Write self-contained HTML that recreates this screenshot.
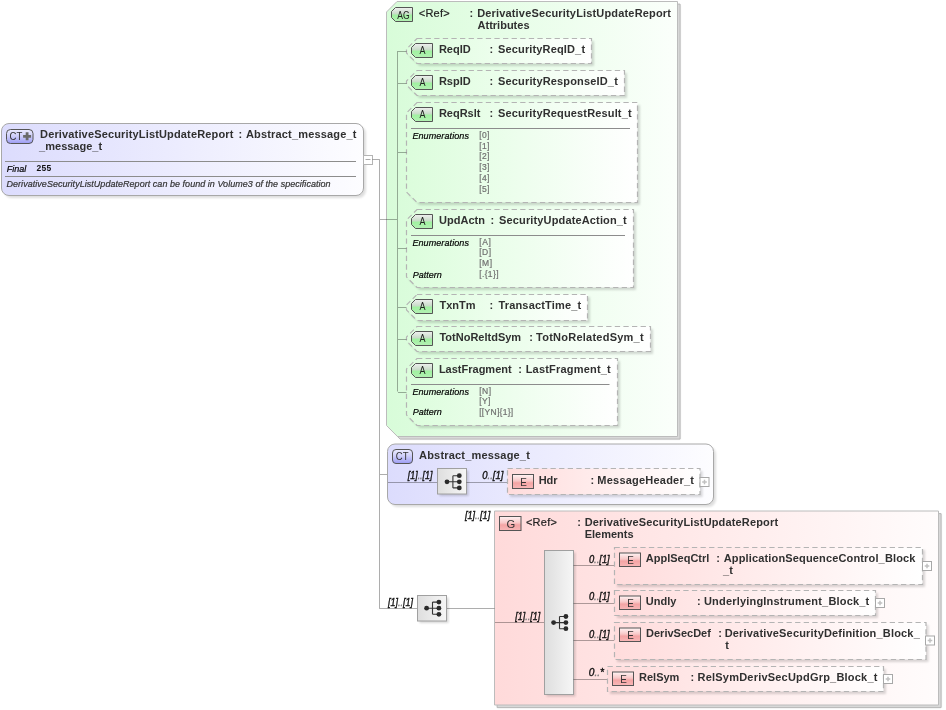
<!DOCTYPE html>
<html><head><meta charset="utf-8"><style>
html,body{margin:0;padding:0;background:#fff}
body{width:946px;height:710px;overflow:hidden}
svg{display:block;will-change:transform}
text{font-family:"Liberation Sans",sans-serif}
</style></head><body>
<svg width="946" height="710" viewBox="0 0 946 710"><defs>
<linearGradient id="gCT" x1="0" y1="0" x2="1" y2="0"><stop offset="0" stop-color="#dcdcfd"/><stop offset="1" stop-color="#fdfdff"/></linearGradient>
<linearGradient id="gAG" x1="0" y1="0" x2="1" y2="0"><stop offset="0" stop-color="#d8fcd9"/><stop offset="1" stop-color="#fbfffb"/></linearGradient>
<linearGradient id="gA" x1="0" y1="0" x2="1" y2="0"><stop offset="0" stop-color="#dcfddc"/><stop offset="1" stop-color="#ffffff"/></linearGradient>
<linearGradient id="gG" x1="0" y1="0" x2="1" y2="0"><stop offset="0" stop-color="#ffdada"/><stop offset="1" stop-color="#fffcfc"/></linearGradient>
<linearGradient id="gE" x1="0" y1="0" x2="1" y2="0"><stop offset="0" stop-color="#ffdcdc"/><stop offset="1" stop-color="#ffffff"/></linearGradient>
<linearGradient id="gSeq" x1="0" y1="0" x2="1" y2="0"><stop offset="0" stop-color="#dedede"/><stop offset="1" stop-color="#f6f6f6"/></linearGradient>
<linearGradient id="bCT" x1="0" y1="0" x2="0" y2="1"><stop offset="0" stop-color="#ececff"/><stop offset="0.45" stop-color="#d0d0fa"/><stop offset="1" stop-color="#9c9cf4"/></linearGradient>
<linearGradient id="bA" x1="0" y1="0" x2="0" y2="1"><stop offset="0" stop-color="#f0f0f0"/><stop offset="0.45" stop-color="#c8dcc8"/><stop offset="0.55" stop-color="#a0f2a0"/><stop offset="1" stop-color="#b4f0b4"/></linearGradient>
<linearGradient id="bE" x1="0" y1="0" x2="0" y2="1"><stop offset="0" stop-color="#fff4f4"/><stop offset="0.45" stop-color="#f8c8c8"/><stop offset="0.6" stop-color="#f4a4a4"/><stop offset="1" stop-color="#f8b8b8"/></linearGradient>
<filter id="sh" x="-5%" y="-5%" width="110%" height="110%"><feGaussianBlur stdDeviation="1.3"/></filter>
<filter id="sh2" x="-5%" y="-5%" width="110%" height="110%"><feGaussianBlur stdDeviation="0.5"/></filter>
</defs><rect x="4.0" y="126.0" width="362" height="72" rx="7.5" fill="#000" opacity="0.13" filter="url(#sh)"/>
<rect x="1.5" y="123.5" width="362" height="72" fill="url(#gCT)" stroke="#a8a8a8" rx="7.5" />
<rect x="6.5" y="129.5" width="26.5" height="14" fill="url(#bCT)" stroke="#555" rx="4" />
<text x="9.58" y="139.90" font-size="11.5" fill="#333" textLength="12.769" lengthAdjust="spacingAndGlyphs">CT</text>
<path d="M25.7,132.3 h2.8 v2.6 h2.6 v2.8 h-2.6 v2.6 h-2.8 v-2.6 h-2.6 v-2.8 h2.6 z" fill="#6a6a6a" stroke="none" />
<text x="40.06" y="138.30" font-size="11" font-weight="bold" fill="#303030" letter-spacing="0.153">DerivativeSecurityListUpdateReport</text>
<text x="238.47" y="138.30" font-size="11" font-weight="bold" fill="#303030">:</text>
<text x="245.89" y="138.30" font-size="11" font-weight="bold" fill="#303030" letter-spacing="0.179">Abstract_message_t</text>
<text x="39.11" y="149.70" font-size="11" font-weight="bold" fill="#303030">_message_t</text>
<path d="M5,161.5 L356,161.5" fill="none" stroke="#8c8c8c" />
<path d="M5,176.5 L356,176.5" fill="none" stroke="#8c8c8c" />
<text x="6.64" y="171.70" font-size="9" font-style="italic" fill="#000" stroke="#000" stroke-width="0.2" letter-spacing="0.060">Final</text>
<text x="36.57" y="171.20" font-size="8.5" font-weight="bold" fill="#111" letter-spacing="0.218">255</text>
<text x="6.53" y="186.80" font-size="9" font-style="italic" fill="#333" stroke="#333" stroke-width="0.2" letter-spacing="0.035">DerivativeSecurityListUpdateReport can be found in Volume3 of the specification</text>
<rect x="363.5" y="155.5" width="9" height="9" fill="#fff" stroke="#b4b4b4" />
<path d="M365.5,159.5 L370.5,159.5" fill="none" stroke="#aaa" />
<path d="M372.5,159.5 L379.5,159.5 L379.5,608.5 L417.5,608.5" fill="none" stroke="#000" stroke-opacity="0.32" />
<path d="M380,474.5 L387.5,474.5" fill="none" stroke="#000" stroke-opacity="0.32" />
<path d="M397,1.5 H677.5 V436.5 H397.5 L386.5,425.5 V12 Z" transform="translate(3.1,3.1)" fill="#000" opacity="0.06" filter="url(#sh)"/>
<path d="M397,1.5 H677.5 V436.5 H397.5 L386.5,425.5 V12 Z" transform="translate(2.6,2.6)" fill="#d8d8d8" stroke="#b8b8b8"/>
<path d="M397,1.5 H677.5 V436.5 H397.5 L386.5,425.5 V12 Z" fill="url(#gAG)" stroke="#bcbcbc" />
<path d="M395.5,7.5 H412.5 V21.5 H395.5 L391.5,17.5 V11.5 Z" fill="url(#bA)" stroke="#555" />
<text x="397.25" y="18.50" font-size="11" fill="#222" textLength="12.387" lengthAdjust="spacingAndGlyphs">AG</text>
<text x="418.70" y="16.60" font-size="11" fill="#222" stroke="#222" stroke-width="0.2" letter-spacing="0.273">&lt;Ref&gt;</text>
<text x="469.53" y="16.60" font-size="11" font-weight="bold" fill="#303030">:</text>
<text x="477.18" y="16.60" font-size="11" font-weight="bold" fill="#303030" letter-spacing="0.165">DerivativeSecurityListUpdateReport</text>
<text x="477.57" y="28.60" font-size="11" font-weight="bold" fill="#303030">Attributes</text>
<path d="M397.5,51 L397.5,391.5" fill="none" stroke="#000" stroke-opacity="0.32" />
<path d="M380,219.5 L397,219.5" fill="none" stroke="#000" stroke-opacity="0.32" />
<path d="M417.0,38.5 H591.5 V63.5 H417.0 L406.5,53.0 V49.0 Z" transform="translate(2.5,2.5)" fill="#000" opacity="0.15" filter="url(#sh)"/>
<path d="M417.0,38.5 H591.5 V63.5 H417.0 L406.5,53.0 V49.0 Z" fill="url(#gA)" stroke="#b4b4b4" stroke-dasharray="5.3 3.3" stroke-width="1.2"/>
<path d="M398,51.5 L406.5,51.5" fill="none" stroke="#000" stroke-opacity="0.32" />
<path d="M415.5,43.5 H432.5 V57.5 H415.5 L411.5,53.5 V47.5 Z" fill="url(#bA)" stroke="#555" />
<text x="419.58" y="53.90" font-size="10.5" fill="#222" textLength="6.016" lengthAdjust="spacingAndGlyphs">A</text>
<text x="438.90" y="52.70" font-size="11" font-weight="bold" fill="#303030">ReqID</text>
<text x="489.43" y="52.70" font-size="11" font-weight="bold" fill="#303030">:</text>
<text x="498.04" y="52.70" font-size="11" font-weight="bold" fill="#303030" letter-spacing="0.146">SecurityReqID_t</text>
<path d="M417.0,70.5 H624.5 V95.5 H417.0 L406.5,85.0 V81.0 Z" transform="translate(2.5,2.5)" fill="#000" opacity="0.15" filter="url(#sh)"/>
<path d="M417.0,70.5 H624.5 V95.5 H417.0 L406.5,85.0 V81.0 Z" fill="url(#gA)" stroke="#b4b4b4" stroke-dasharray="5.3 3.3" stroke-width="1.2"/>
<path d="M398,83.5 L406.5,83.5" fill="none" stroke="#000" stroke-opacity="0.32" />
<path d="M415.5,75.5 H432.5 V89.5 H415.5 L411.5,85.5 V79.5 Z" fill="url(#bA)" stroke="#555" />
<text x="419.58" y="85.90" font-size="10.5" fill="#222" textLength="6.016" lengthAdjust="spacingAndGlyphs">A</text>
<text x="438.90" y="84.70" font-size="11" font-weight="bold" fill="#303030">RspID</text>
<text x="489.43" y="84.70" font-size="11" font-weight="bold" fill="#303030">:</text>
<text x="498.04" y="84.70" font-size="11" font-weight="bold" fill="#303030" letter-spacing="0.158">SecurityResponseID_t</text>
<path d="M417.0,102.5 H637.5 V202.5 H417.0 L406.5,192.0 V113.0 Z" transform="translate(2.5,2.5)" fill="#000" opacity="0.15" filter="url(#sh)"/>
<path d="M417.0,102.5 H637.5 V202.5 H417.0 L406.5,192.0 V113.0 Z" fill="url(#gA)" stroke="#b4b4b4" stroke-dasharray="5.3 3.3" stroke-width="1.2"/>
<path d="M398,152.5 L406.5,152.5" fill="none" stroke="#000" stroke-opacity="0.32" />
<path d="M415.5,107.5 H432.5 V121.5 H415.5 L411.5,117.5 V111.5 Z" fill="url(#bA)" stroke="#555" />
<text x="419.58" y="117.90" font-size="10.5" fill="#222" textLength="6.016" lengthAdjust="spacingAndGlyphs">A</text>
<text x="438.90" y="116.70" font-size="11" font-weight="bold" fill="#303030">ReqRslt</text>
<text x="489.43" y="116.70" font-size="11" font-weight="bold" fill="#303030">:</text>
<text x="498.04" y="116.70" font-size="11" font-weight="bold" fill="#303030" letter-spacing="0.153">SecurityRequestResult_t</text>
<path d="M417.0,209.5 H633.5 V287.5 H417.0 L406.5,277.0 V220.0 Z" transform="translate(2.5,2.5)" fill="#000" opacity="0.15" filter="url(#sh)"/>
<path d="M417.0,209.5 H633.5 V287.5 H417.0 L406.5,277.0 V220.0 Z" fill="url(#gA)" stroke="#b4b4b4" stroke-dasharray="5.3 3.3" stroke-width="1.2"/>
<path d="M398,248.5 L406.5,248.5" fill="none" stroke="#000" stroke-opacity="0.32" />
<path d="M415.5,214.5 H432.5 V228.5 H415.5 L411.5,224.5 V218.5 Z" fill="url(#bA)" stroke="#555" />
<text x="419.58" y="224.90" font-size="10.5" fill="#222" textLength="6.016" lengthAdjust="spacingAndGlyphs">A</text>
<text x="439.07" y="223.70" font-size="11" font-weight="bold" fill="#303030">UpdActn</text>
<text x="490.47" y="223.70" font-size="11" font-weight="bold" fill="#303030">:</text>
<text x="499.04" y="223.70" font-size="11" font-weight="bold" fill="#303030" letter-spacing="0.143">SecurityUpdateAction_t</text>
<path d="M417.0,294.5 H587.5 V320.5 H417.0 L406.5,310.0 V305.0 Z" transform="translate(2.5,2.5)" fill="#000" opacity="0.15" filter="url(#sh)"/>
<path d="M417.0,294.5 H587.5 V320.5 H417.0 L406.5,310.0 V305.0 Z" fill="url(#gA)" stroke="#b4b4b4" stroke-dasharray="5.3 3.3" stroke-width="1.2"/>
<path d="M398,307.5 L406.5,307.5" fill="none" stroke="#000" stroke-opacity="0.32" />
<path d="M415.5,299.5 H432.5 V313.5 H415.5 L411.5,309.5 V303.5 Z" fill="url(#bA)" stroke="#555" />
<text x="419.58" y="309.90" font-size="10.5" fill="#222" textLength="6.016" lengthAdjust="spacingAndGlyphs">A</text>
<text x="439.48" y="308.70" font-size="11" font-weight="bold" fill="#303030">TxnTm</text>
<text x="489.43" y="308.70" font-size="11" font-weight="bold" fill="#303030">:</text>
<text x="498.43" y="308.70" font-size="11" font-weight="bold" fill="#303030" letter-spacing="0.178">TransactTime_t</text>
<path d="M417.0,326.5 H650.5 V351.5 H417.0 L406.5,341.0 V337.0 Z" transform="translate(2.5,2.5)" fill="#000" opacity="0.15" filter="url(#sh)"/>
<path d="M417.0,326.5 H650.5 V351.5 H417.0 L406.5,341.0 V337.0 Z" fill="url(#gA)" stroke="#b4b4b4" stroke-dasharray="5.3 3.3" stroke-width="1.2"/>
<path d="M398,339.5 L406.5,339.5" fill="none" stroke="#000" stroke-opacity="0.32" />
<path d="M415.5,331.5 H432.5 V345.5 H415.5 L411.5,341.5 V335.5 Z" fill="url(#bA)" stroke="#555" />
<text x="419.58" y="341.90" font-size="10.5" fill="#222" textLength="6.016" lengthAdjust="spacingAndGlyphs">A</text>
<text x="439.48" y="340.70" font-size="11" font-weight="bold" fill="#303030">TotNoReltdSym</text>
<text x="529.27" y="340.70" font-size="11" font-weight="bold" fill="#303030">:</text>
<text x="536.06" y="340.70" font-size="11" font-weight="bold" fill="#303030" letter-spacing="0.242">TotNoRelatedSym_t</text>
<path d="M417.0,358.5 H617.5 V425.5 H417.0 L406.5,415.0 V369.0 Z" transform="translate(2.5,2.5)" fill="#000" opacity="0.15" filter="url(#sh)"/>
<path d="M417.0,358.5 H617.5 V425.5 H417.0 L406.5,415.0 V369.0 Z" fill="url(#gA)" stroke="#b4b4b4" stroke-dasharray="5.3 3.3" stroke-width="1.2"/>
<path d="M398,392.5 L406.5,392.5" fill="none" stroke="#000" stroke-opacity="0.32" />
<path d="M415.5,363.5 H432.5 V377.5 H415.5 L411.5,373.5 V367.5 Z" fill="url(#bA)" stroke="#555" />
<text x="419.58" y="373.90" font-size="10.5" fill="#222" textLength="6.016" lengthAdjust="spacingAndGlyphs">A</text>
<text x="438.90" y="372.70" font-size="11" font-weight="bold" fill="#303030">LastFragment</text>
<text x="518.27" y="372.70" font-size="11" font-weight="bold" fill="#303030">:</text>
<text x="525.68" y="372.70" font-size="11" font-weight="bold" fill="#303030" letter-spacing="0.195">LastFragment_t</text>
<path d="M411,128.5 L630,128.5" fill="none" stroke="#8c8c8c" />
<text x="412.41" y="138.70" font-size="9" font-style="italic" fill="#000" stroke="#000" stroke-width="0.2" letter-spacing="0.088">Enumerations</text>
<text x="479.17" y="137.90" font-size="8.5" fill="#707070" stroke="#707070" stroke-width="0.2" letter-spacing="0.430">[0]</text>
<text x="479.17" y="148.65" font-size="8.5" fill="#707070" stroke="#707070" stroke-width="0.2" letter-spacing="0.430">[1]</text>
<text x="479.17" y="159.40" font-size="8.5" fill="#707070" stroke="#707070" stroke-width="0.2" letter-spacing="0.430">[2]</text>
<text x="479.17" y="170.15" font-size="8.5" fill="#707070" stroke="#707070" stroke-width="0.2" letter-spacing="0.430">[3]</text>
<text x="479.17" y="180.90" font-size="8.5" fill="#707070" stroke="#707070" stroke-width="0.2" letter-spacing="0.430">[4]</text>
<text x="479.17" y="191.65" font-size="8.5" fill="#707070" stroke="#707070" stroke-width="0.2" letter-spacing="0.430">[5]</text>
<path d="M411,235.5 L625,235.5" fill="none" stroke="#8c8c8c" />
<text x="412.41" y="245.90" font-size="9" font-style="italic" fill="#000" stroke="#000" stroke-width="0.2" letter-spacing="0.088">Enumerations</text>
<text x="479.17" y="245.30" font-size="8.5" fill="#707070" stroke="#707070" stroke-width="0.2" letter-spacing="0.714">[A]</text>
<text x="479.17" y="254.70" font-size="8.5" fill="#707070" stroke="#707070" stroke-width="0.2" letter-spacing="0.513">[D]</text>
<text x="479.17" y="266.10" font-size="8.5" fill="#707070" stroke="#707070" stroke-width="0.2" letter-spacing="0.602">[M]</text>
<text x="412.64" y="277.70" font-size="9" font-style="italic" fill="#000" stroke="#000" stroke-width="0.2">Pattern</text>
<text x="479.17" y="277.20" font-size="8.5" fill="#707070" stroke="#707070" stroke-width="0.2" letter-spacing="0.378">[.{1}]</text>
<path d="M411,384.5 L609.5,384.5" fill="none" stroke="#8c8c8c" />
<text x="412.41" y="394.50" font-size="9" font-style="italic" fill="#000" stroke="#000" stroke-width="0.2" letter-spacing="0.088">Enumerations</text>
<text x="479.17" y="393.80" font-size="8.5" fill="#707070" stroke="#707070" stroke-width="0.2" letter-spacing="0.513">[N]</text>
<text x="479.17" y="404.00" font-size="8.5" fill="#707070" stroke="#707070" stroke-width="0.2" letter-spacing="0.385">[Y]</text>
<text x="412.64" y="415.20" font-size="9" font-style="italic" fill="#000" stroke="#000" stroke-width="0.2">Pattern</text>
<text x="479.17" y="415.00" font-size="8.5" fill="#707070" stroke="#707070" stroke-width="0.2" letter-spacing="0.299">[[YN]{1}]</text>
<rect x="390.0" y="446.5" width="326" height="60.5" rx="7.5" fill="#000" opacity="0.13" filter="url(#sh)"/>
<rect x="387.5" y="444" width="326" height="60.5" fill="url(#gCT)" stroke="#a8a8a8" rx="7.5" />
<rect x="392.5" y="449.5" width="20" height="14" fill="url(#bCT)" stroke="#555" rx="3.5" />
<text x="395.83" y="460.40" font-size="11.5" fill="#333" textLength="12.713" lengthAdjust="spacingAndGlyphs">CT</text>
<text x="419.08" y="458.90" font-size="11" font-weight="bold" fill="#303030" letter-spacing="0.183">Abstract_message_t</text>
<path d="M388,482.5 L437.5,482.5" fill="none" stroke="#000" stroke-opacity="0.32" />
<text x="407.83" y="478.50" font-size="10" font-style="italic" fill="#111" stroke="#111" stroke-width="0.35" textLength="24.571" lengthAdjust="spacingAndGlyphs">[1]<tspan fill="#7a7a7a" stroke="#7a7a7a">..</tspan>[1]</text>
<rect x="439.5" y="470.5" width="29" height="25.5" fill="#000" opacity="0.16" filter="url(#sh)"/>
<rect x="437.5" y="468.5" width="29" height="25.5" fill="url(#gSeq)" stroke="#a0a0a0" />
<g fill="#2a2a2a" stroke="#333"><path d="M447,481.8 H452.9 M452.9,475.7 V487.90000000000003 M452.9,475.7 H459.3 M452.9,481.8 H459.3 M452.9,487.90000000000003 H459.3" fill="none" stroke-width="1.1"/><circle cx="447" cy="481.8" r="2.4" stroke="none"/><circle cx="459.3" cy="475.7" r="2.4" stroke="none"/><circle cx="459.3" cy="481.8" r="2.4" stroke="none"/><circle cx="459.3" cy="487.90000000000003" r="2.4" stroke="none"/></g>
<path d="M466.5,482.5 L507.5,482.5" fill="none" stroke="#000" stroke-opacity="0.32" />
<text x="482.28" y="478.60" font-size="10" font-style="italic" fill="#111" stroke="#111" stroke-width="0.35" textLength="21.074" lengthAdjust="spacingAndGlyphs">0<tspan fill="#7a7a7a" stroke="#7a7a7a">..</tspan>[1]</text>
<rect x="510.0" y="471.0" width="192.5" height="26.0" rx="0" fill="#000" opacity="0.15" filter="url(#sh)"/>
<rect x="507.5" y="468.5" width="192.5" height="26.0" fill="url(#gE)" stroke="#b4b4b4" stroke-dasharray="5.3 3.3" stroke-width="1.2"/>
<rect x="512.5" y="474.5" width="21.0" height="14.0" fill="url(#bE)" stroke="#555" />
<text x="520.32" y="485.60" font-size="10.5" fill="#333" textLength="6.600" lengthAdjust="spacingAndGlyphs">E</text>
<text x="538.68" y="483.50" font-size="11" font-weight="bold" fill="#303030">Hdr</text>
<text x="590.43" y="483.50" font-size="11" font-weight="bold" fill="#303030">:</text>
<text x="597.33" y="483.50" font-size="11" font-weight="bold" fill="#303030" letter-spacing="0.218">MessageHeader_t</text>
<rect x="700" y="477.5" width="9" height="9" fill="#fff" stroke="#a8a8a8" />
<path d="M702.2,482.0 L706.8,482.0" fill="none" stroke="#c0c0c0" stroke-width="1.5"/>
<path d="M704.5,479.7 L704.5,484.3" fill="none" stroke="#c0c0c0" stroke-width="1.5"/>
<text x="464.90" y="518.70" font-size="10" font-style="italic" fill="#111" stroke="#111" stroke-width="0.35" textLength="25.328" lengthAdjust="spacingAndGlyphs">[1]<tspan fill="#7a7a7a" stroke="#7a7a7a">..</tspan>[1]</text>
<path d="M494.5,511 H938.5 V705 H494.5 Z" transform="translate(3.1,3.1)" fill="#000" opacity="0.06" filter="url(#sh)"/>
<path d="M494.5,511 H938.5 V705 H494.5 Z" transform="translate(2.6,2.6)" fill="#d8d8d8" stroke="#b8b8b8"/>
<path d="M494.5,511 H938.5 V705 H494.5 Z" fill="url(#gG)" stroke="#bcbcbc" />
<rect x="499.5" y="516.5" width="21.5" height="14.0" fill="url(#bE)" stroke="#555" />
<text x="506.44" y="527.90" font-size="11" fill="#333" textLength="8.740" lengthAdjust="spacingAndGlyphs">G</text>
<text x="525.88" y="525.60" font-size="11" fill="#222" stroke="#222" stroke-width="0.2" letter-spacing="0.275">&lt;Ref&gt;</text>
<text x="577.35" y="525.60" font-size="11" font-weight="bold" fill="#303030">:</text>
<text x="584.69" y="525.60" font-size="11" font-weight="bold" fill="#303030" letter-spacing="0.155">DerivativeSecurityListUpdateReport</text>
<text x="584.69" y="537.70" font-size="11" font-weight="bold" fill="#303030">Elements</text>
<path d="M446.5,608.5 L494.5,608.5" fill="none" stroke="#000" stroke-opacity="0.32" />
<text x="387.97" y="605.60" font-size="10" font-style="italic" fill="#111" stroke="#111" stroke-width="0.35" textLength="24.957" lengthAdjust="spacingAndGlyphs">[1]<tspan fill="#7a7a7a" stroke="#7a7a7a">..</tspan>[1]</text>
<rect x="419.5" y="597.5" width="29" height="25.5" fill="#000" opacity="0.16" filter="url(#sh)"/>
<rect x="417.5" y="595.5" width="29" height="25.5" fill="url(#gSeq)" stroke="#a0a0a0" />
<g fill="#2a2a2a" stroke="#333"><path d="M426.6,608.2 H432.5 M432.5,602.1 V614.3000000000001 M432.5,602.1 H438.90000000000003 M432.5,608.2 H438.90000000000003 M432.5,614.3000000000001 H438.90000000000003" fill="none" stroke-width="1.1"/><circle cx="426.6" cy="608.2" r="2.4" stroke="none"/><circle cx="438.90000000000003" cy="602.1" r="2.4" stroke="none"/><circle cx="438.90000000000003" cy="608.2" r="2.4" stroke="none"/><circle cx="438.90000000000003" cy="614.3000000000001" r="2.4" stroke="none"/></g>
<path d="M495,622.5 L544.5,622.5" fill="none" stroke="#000" stroke-opacity="0.32" />
<text x="515.27" y="619.60" font-size="10" font-style="italic" fill="#111" stroke="#111" stroke-width="0.35" textLength="24.939" lengthAdjust="spacingAndGlyphs">[1]<tspan fill="#7a7a7a" stroke="#7a7a7a">..</tspan>[1]</text>
<rect x="546.5" y="552.5" width="29" height="144" fill="#000" opacity="0.16" filter="url(#sh)"/>
<rect x="544.5" y="550.5" width="29" height="144" fill="url(#gSeq)" stroke="#a0a0a0" />
<g fill="#2a2a2a" stroke="#333"><path d="M553.6,622.6 H559.5 M559.5,616.5 V628.7 M559.5,616.5 H565.9 M559.5,622.6 H565.9 M559.5,628.7 H565.9" fill="none" stroke-width="1.1"/><circle cx="553.6" cy="622.6" r="2.4" stroke="none"/><circle cx="565.9" cy="616.5" r="2.4" stroke="none"/><circle cx="565.9" cy="622.6" r="2.4" stroke="none"/><circle cx="565.9" cy="628.7" r="2.4" stroke="none"/></g>
<path d="M573.5,565.5 L614.5,565.5" fill="none" stroke="#000" stroke-opacity="0.32" />
<text x="588.89" y="562.80" font-size="10" font-style="italic" fill="#111" stroke="#111" stroke-width="0.35" textLength="20.827" lengthAdjust="spacingAndGlyphs">0<tspan fill="#7a7a7a" stroke="#7a7a7a">..</tspan>[1]</text>
<rect x="617.0" y="550.0" width="308.0" height="37.0" rx="0" fill="#000" opacity="0.15" filter="url(#sh)"/>
<rect x="614.5" y="547.5" width="308.0" height="37.0" fill="url(#gE)" stroke="#b4b4b4" stroke-dasharray="5.3 3.3" stroke-width="1.2"/>
<rect x="619.5" y="553.0" width="21.0" height="13.5" fill="url(#bE)" stroke="#555" />
<text x="627.32" y="564.10" font-size="10.5" fill="#333" textLength="6.600" lengthAdjust="spacingAndGlyphs">E</text>
<text x="645.77" y="561.90" font-size="11" font-weight="bold" fill="#303030">ApplSeqCtrl</text>
<text x="716.35" y="561.90" font-size="11" font-weight="bold" fill="#303030">:</text>
<text x="723.77" y="561.90" font-size="11" font-weight="bold" fill="#303030" letter-spacing="0.150">ApplicationSequenceControl_Block</text>
<text x="723.11" y="574.10" font-size="11" font-weight="bold" fill="#303030">_t</text>
<rect x="922.5" y="561.5" width="9" height="9" fill="#fff" stroke="#a8a8a8" />
<path d="M924.7,566.0 L929.3,566.0" fill="none" stroke="#c0c0c0" stroke-width="1.5"/>
<path d="M927.0,563.7 L927.0,568.3" fill="none" stroke="#c0c0c0" stroke-width="1.5"/>
<path d="M573.5,603.5 L614.5,603.5" fill="none" stroke="#000" stroke-opacity="0.32" />
<text x="588.89" y="599.90" font-size="10" font-style="italic" fill="#111" stroke="#111" stroke-width="0.35" textLength="20.827" lengthAdjust="spacingAndGlyphs">0<tspan fill="#7a7a7a" stroke="#7a7a7a">..</tspan>[1]</text>
<rect x="617.0" y="593.0" width="261.0" height="25.0" rx="0" fill="#000" opacity="0.15" filter="url(#sh)"/>
<rect x="614.5" y="590.5" width="261.0" height="25.0" fill="url(#gE)" stroke="#b4b4b4" stroke-dasharray="5.3 3.3" stroke-width="1.2"/>
<rect x="619.5" y="596.0" width="21.0" height="13.5" fill="url(#bE)" stroke="#555" />
<text x="627.32" y="607.10" font-size="10.5" fill="#333" textLength="6.600" lengthAdjust="spacingAndGlyphs">E</text>
<text x="645.87" y="604.90" font-size="11" font-weight="bold" fill="#303030">Undly</text>
<text x="696.95" y="604.90" font-size="11" font-weight="bold" fill="#303030">:</text>
<text x="703.98" y="604.90" font-size="11" font-weight="bold" fill="#303030" letter-spacing="0.191">UnderlyingInstrument_Block_t</text>
<rect x="875.5" y="598.5" width="9" height="9" fill="#fff" stroke="#a8a8a8" />
<path d="M877.7,603.0 L882.3,603.0" fill="none" stroke="#c0c0c0" stroke-width="1.5"/>
<path d="M880.0,600.7 L880.0,605.3" fill="none" stroke="#c0c0c0" stroke-width="1.5"/>
<path d="M573.5,640.5 L614.5,640.5" fill="none" stroke="#000" stroke-opacity="0.32" />
<text x="588.89" y="637.70" font-size="10" font-style="italic" fill="#111" stroke="#111" stroke-width="0.35" textLength="20.827" lengthAdjust="spacingAndGlyphs">0<tspan fill="#7a7a7a" stroke="#7a7a7a">..</tspan>[1]</text>
<rect x="617.0" y="625.0" width="311.5" height="37.0" rx="0" fill="#000" opacity="0.15" filter="url(#sh)"/>
<rect x="614.5" y="622.5" width="311.5" height="37.0" fill="url(#gE)" stroke="#b4b4b4" stroke-dasharray="5.3 3.3" stroke-width="1.2"/>
<rect x="619.5" y="628.0" width="21.0" height="13.5" fill="url(#bE)" stroke="#555" />
<text x="627.32" y="639.10" font-size="10.5" fill="#333" textLength="6.600" lengthAdjust="spacingAndGlyphs">E</text>
<text x="646.06" y="636.90" font-size="11" font-weight="bold" fill="#303030">DerivSecDef</text>
<text x="718.14" y="636.90" font-size="11" font-weight="bold" fill="#303030">:</text>
<text x="724.68" y="636.90" font-size="11" font-weight="bold" fill="#303030" letter-spacing="0.182">DerivativeSecurityDefinition_Block_</text>
<text x="725.35" y="649.10" font-size="11" font-weight="bold" fill="#303030">t</text>
<rect x="925.5" y="636.0" width="9" height="9" fill="#fff" stroke="#a8a8a8" />
<path d="M927.7,640.5 L932.3,640.5" fill="none" stroke="#c0c0c0" stroke-width="1.5"/>
<path d="M930.0,638.2 L930.0,642.8" fill="none" stroke="#c0c0c0" stroke-width="1.5"/>
<path d="M573.5,679.5 L607.5,679.5" fill="none" stroke="#000" stroke-opacity="0.32" />
<text x="588.79" y="676.20" font-size="10" font-style="italic" fill="#111" stroke="#111" stroke-width="0.35" textLength="15.230" lengthAdjust="spacingAndGlyphs">0<tspan fill="#7a7a7a" stroke="#7a7a7a">..</tspan>*</text>
<rect x="610.0" y="669.0" width="276.0" height="25.0" rx="0" fill="#000" opacity="0.15" filter="url(#sh)"/>
<rect x="607.5" y="666.5" width="276.0" height="25.0" fill="url(#gE)" stroke="#b4b4b4" stroke-dasharray="5.3 3.3" stroke-width="1.2"/>
<rect x="612.5" y="672.0" width="21.0" height="13.5" fill="url(#bE)" stroke="#555" />
<text x="620.32" y="683.10" font-size="10.5" fill="#333" textLength="6.600" lengthAdjust="spacingAndGlyphs">E</text>
<text x="639.06" y="680.90" font-size="11" font-weight="bold" fill="#303030">RelSym</text>
<text x="690.43" y="680.90" font-size="11" font-weight="bold" fill="#303030">:</text>
<text x="697.57" y="680.90" font-size="11" font-weight="bold" fill="#303030" letter-spacing="0.209">RelSymDerivSecUpdGrp_Block_t</text>
<rect x="883.5" y="674.5" width="9" height="9" fill="#fff" stroke="#a8a8a8" />
<path d="M885.7,679.0 L890.3,679.0" fill="none" stroke="#c0c0c0" stroke-width="1.5"/>
<path d="M888.0,676.7 L888.0,681.3" fill="none" stroke="#c0c0c0" stroke-width="1.5"/></svg>
</body></html>
